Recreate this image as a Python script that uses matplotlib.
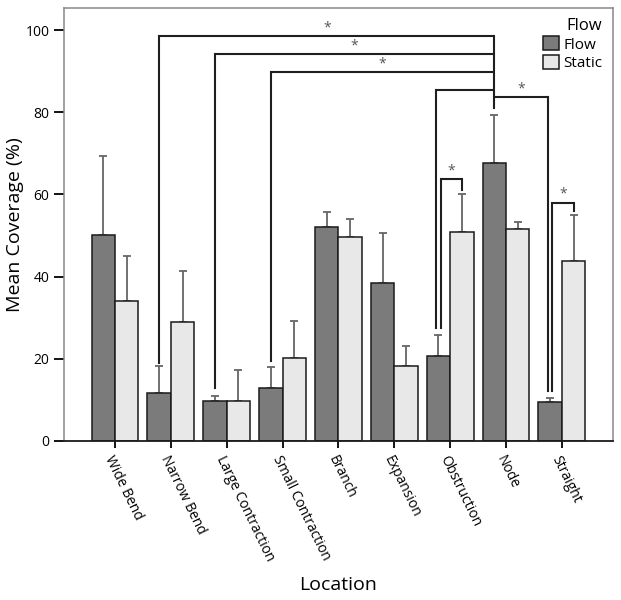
import matplotlib
matplotlib.use("Agg")
import matplotlib.pyplot as plt
import numpy as np

plt.rcParams['font.family'] = ['Open Sans', 'DejaVu Sans']

locations = ["Wide Bend", "Narrow Bend", "Large Contraction", "Small Contraction",
             "Branch", "Expansion", "Obstruction", "Node", "Straight"]
flow_mean = [50.1, 11.6, 9.7, 12.8, 52.1, 38.4, 20.7, 67.6, 9.4]
flow_err = [19.2, 6.6, 1.3, 5.3, 3.7, 12.1, 5.1, 11.7, 1.1]
static_mean = [34.1, 28.9, 9.7, 20.1, 49.6, 18.2, 50.8, 51.7, 43.8]
static_err = [11.0, 12.5, 7.7, 9.2, 4.5, 5.0, 9.4, 1.7, 11.2]

# significance brackets: (left x, right x, height, left leg bottom, right leg bottom, star)
brackets = [
    (0.79, 6.79, 98.5, 19.0, None, True),
    (1.79, 6.79, 94.2, 12.9, None, True),
    (2.79, 6.79, 89.7, 19.5, None, True),
    (5.75, 6.79, 85.4, 27.4, None, False),
    (6.79, 7.75, 83.6, None, 12.2, True),
    (5.83, 6.21, 63.7, 27.4, 61.0, True),
    (7.83, 8.21, 58.0, 12.2, 56.0, True),
]
node_leg = (6.79, 98.5, 81.0)

fig = plt.figure(figsize=(6.21, 6.00), dpi=100)
ax = fig.add_axes([0.103, 0.265, 0.884, 0.7225])

x = np.arange(len(locations))
w = 0.42
ax.bar(x - w / 2, flow_mean, w, color="#7b7b7b", edgecolor="#1a1a1a", linewidth=1.1,
       label="Flow", zorder=2)
ax.bar(x + w / 2, static_mean, w, color="#e8e8e8", edgecolor="#1a1a1a", linewidth=1.1,
       label="Static", zorder=2)
ax.errorbar(x - w / 2, flow_mean, yerr=[np.zeros(len(x)), flow_err], fmt="none",
            ecolor="#666666", elinewidth=1.3, capsize=3, capthick=1.3, zorder=1)
ax.errorbar(x + w / 2, static_mean, yerr=[np.zeros(len(x)), static_err], fmt="none",
            ecolor="#666666", elinewidth=1.3, capsize=3, capthick=1.3, zorder=1)

lc = "#1f1f1f"
for x1, x2, h, b1, b2, star in brackets:
    ax.plot([x1, x2], [h, h], color=lc, lw=1.5, solid_capstyle="butt", zorder=3)
    if b1 is not None:
        ax.plot([x1, x1], [h, b1], color=lc, lw=1.5, zorder=3)
    if b2 is not None:
        ax.plot([x2, x2], [h, b2], color=lc, lw=1.5, zorder=3)
    if star:
        ax.text((x1 + x2) / 2, h + 0.2, "*", ha="center", va="bottom", fontsize=10,
                color="#555555")
ax.plot([node_leg[0], node_leg[0]], [node_leg[1], node_leg[2]], color=lc, lw=1.5, zorder=3)

ax.set_xlim(-0.914, 8.914)
ax.set_ylim(0, 105.5)
ax.set_yticks([0, 20, 40, 60, 80, 100])
ax.set_xticks(x)
ax.set_xticklabels(locations, rotation=-64, ha="left", va="top", rotation_mode="anchor",
                   fontsize=10)
ax.tick_params(axis="y", labelsize=10, length=7, width=1.3, direction="out")
ax.tick_params(axis="x", length=5, width=1.3, direction="out", pad=4)
for side in ["top", "right", "left"]:
    ax.spines[side].set_color("#888888")
    ax.spines[side].set_linewidth(1.1)
ax.spines["bottom"].set_color("#1a1a1a")
ax.spines["bottom"].set_linewidth(1.3)

ax.set_ylabel("Mean Coverage (%)", fontsize=14, labelpad=1)
fig.text(0.545, 0.025, "Location", ha="center", va="center", fontsize=14)

leg = ax.legend(title="Flow", loc="upper right", frameon=False, fontsize=11,
                title_fontsize=12, handlelength=1.0, handleheight=1.0,
                handletextpad=0.3, borderaxespad=0.3, labelspacing=0.15)
leg._legend_box.align = "right"

fig.savefig("out.png", dpi=100)
